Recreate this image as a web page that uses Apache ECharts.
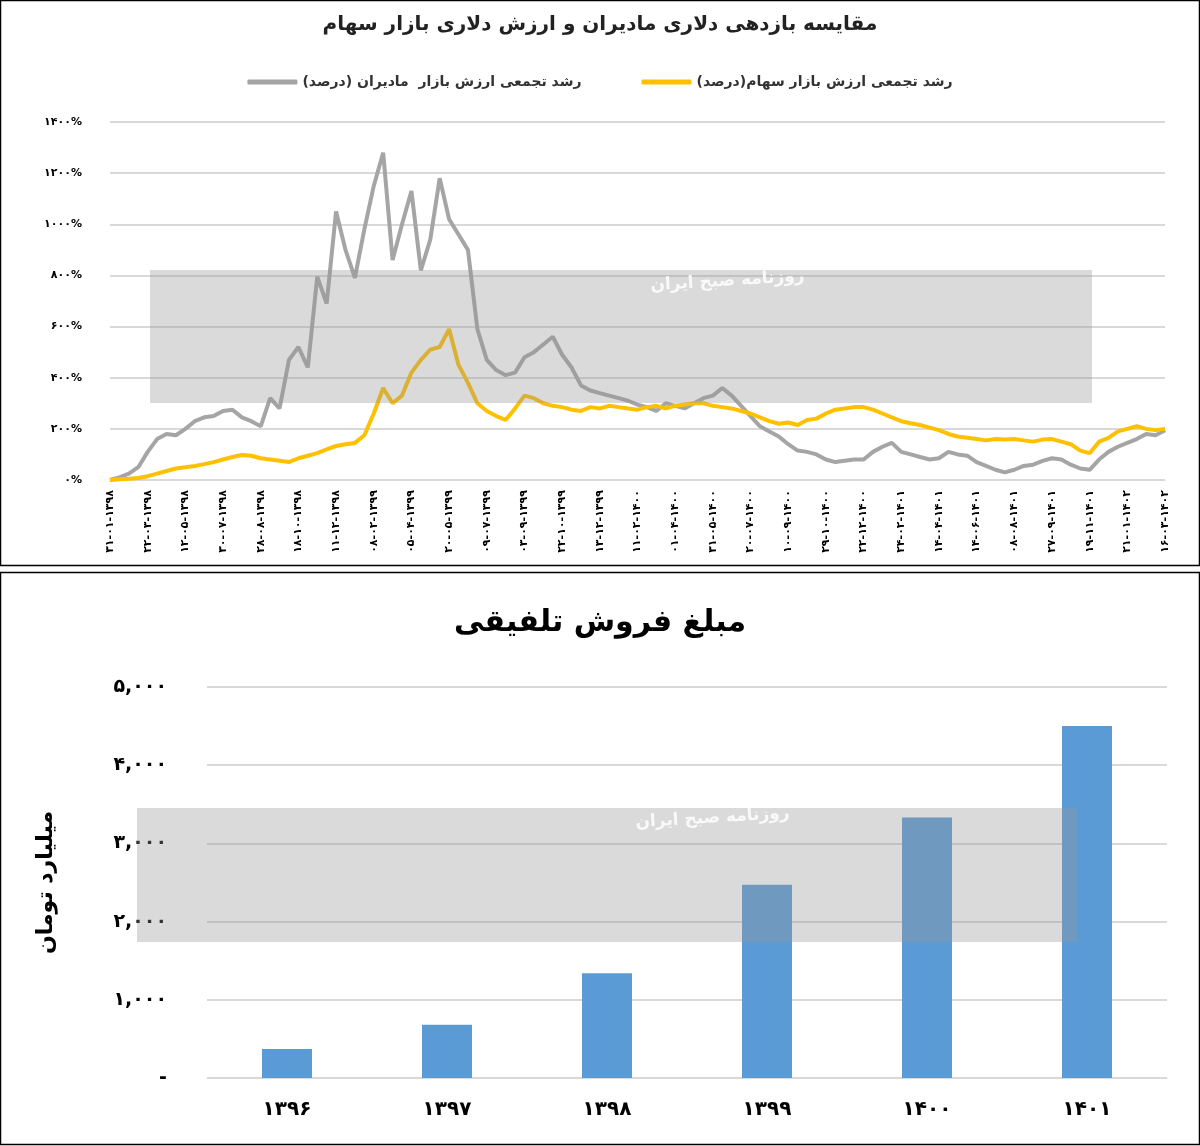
<!DOCTYPE html>
<html><head><meta charset="utf-8">
<script src="https://cdn.jsdelivr.net/npm/echarts@6/dist/echarts.min.js"></script>
<style>html,body{margin:0;padding:0;background:#fff}#c{width:1200px;height:1146px}</style>
</head><body><div id="c"></div>
<script>
// تاریخ‌ها (فقط هر ۴ نقطه برچسب دارد)
var dateLabels = ['۳۱-۰۱-۱۳۹۸','۲۲-۰۳-۱۳۹۸','۱۲-۰۵-۱۳۹۸','۳۰-۰۷-۱۳۹۸','۲۸-۰۸-۱۳۹۸','۱۸-۱۰-۱۳۹۸','۱۱-۱۲-۱۳۹۸',
  '۰۸-۰۲-۱۳۹۹','۰۵-۰۴-۱۳۹۹','۲۰-۰۵-۱۳۹۹','۰۹-۰۷-۱۳۹۹','۰۳-۰۹-۱۳۹۹','۲۲-۱۰-۱۳۹۹','۱۳-۱۲-۱۳۹۹',
  '۱۱-۰۲-۱۴۰۰','۰۱-۰۴-۱۴۰۰','۳۱-۰۵-۱۴۰۰','۲۰-۰۷-۱۴۰۰','۱۰-۰۹-۱۴۰۰','۲۹-۱۰-۱۴۰۰','۲۲-۱۲-۱۴۰۰',
  '۲۴-۰۲-۱۴۰۱','۱۴-۰۴-۱۴۰۱','۱۴-۰۶-۱۴۰۱','۰۸-۰۸-۱۴۰۱','۲۷-۰۹-۱۴۰۱','۱۹-۱۱-۱۴۰۱','۲۱-۰۱-۱۴۰۲','۱۶-۰۳-۱۴۰۲'];

var madiran = [0,10,25,50,110,160,180,175,200,230,245,250,270,275,245,230,210,320,280,470,
  520,440,795,690,1050,900,790,980,1150,1280,860,1000,1130,820,940,1180,1020,960,900,590,
  470,430,410,420,480,500,530,560,490,440,370,350,340,330,320,310,295,285,270,300,
  290,280,300,320,330,360,330,290,250,210,190,170,140,115,110,100,80,70,75,80,
  80,110,130,145,110,100,90,80,85,110,100,95,70,55,40,30,40,55,60,75,
  85,80,60,45,40,80,110,130,145,160,180,175,195];

var bourse = [0,3,5,8,15,25,35,45,50,55,62,70,80,90,98,95,85,80,75,70,
  85,95,105,120,133,140,145,175,260,360,300,330,420,470,510,520,590,450,380,300,
  270,250,235,280,330,320,300,290,285,275,270,285,280,290,285,280,275,285,290,280,
  290,295,300,300,290,285,280,270,260,245,230,220,225,215,235,240,260,275,280,285,
  285,275,260,245,230,222,215,205,195,180,170,165,160,155,160,158,160,155,150,158,
  160,150,140,115,105,150,165,190,200,210,200,195,200];

var years = ['۱۳۹۶','۱۳۹۷','۱۳۹۸','۱۳۹۹','۱۴۰۰','۱۴۰۱'];
var sales = [370,680,1340,2470,3330,4500];

var cats = [];
for (var i = 0; i < madiran.length; i++) cats.push(i % 4 === 0 ? dateLabels[i / 4] : '');

function fa(s) {
  return String(s).replace(/[0-9]/g, function (d) { return '۰۱۲۳۴۵۶۷۸۹'[d]; });
}
var F = 'DejaVu Sans';

var myChart = echarts.init(document.getElementById('c'));
var option = {
  textStyle: { fontFamily: F },
  graphic: [
    { type: 'rect', shape: { x: 0.5, y: 0.5, width: 1199, height: 565 }, style: { fill: 'none', stroke: '#000', lineWidth: 1.5 } },
    { type: 'rect', shape: { x: 0.5, y: 572.5, width: 1199, height: 572 }, style: { fill: 'none', stroke: '#000', lineWidth: 1.5 } },
    { type: 'rect', z: 10, shape: { x: 150, y: 270, width: 942, height: 133 }, style: { fill: 'rgba(150,150,150,0.35)' } },
    { type: 'text', z: 11, left: 650, top: 268, rotation: 0.06, style: { text: 'روزنامه صبح ایران', fill: 'rgba(255,255,255,0.85)', font: 'bold 17px DejaVu Sans' } },
    { type: 'rect', z: 10, shape: { x: 137, y: 808, width: 940, height: 134 }, style: { fill: 'rgba(150,150,150,0.35)' } },
    { type: 'text', z: 11, left: 635, top: 805, rotation: 0.06, style: { text: 'روزنامه صبح ایران', fill: 'rgba(255,255,255,0.85)', font: 'bold 17px DejaVu Sans' } }
  ],
  title: [
    { text: 'مقایسه بازدهی دلاری مادیران و ارزش دلاری بازار سهام', left: 'center', top: 10,
      textStyle: { fontSize: 20, fontWeight: 'bold', color: '#222' } },
    { text: 'مبلغ فروش تلفیقی', left: 'center', top: 603,
      textStyle: { fontSize: 30, fontWeight: 'bold', color: '#000' } }
  ],
  legend: {
    top: 70, left: 'center', itemGap: 60, itemWidth: 50, itemHeight: 5, icon: 'roundRect',
    textStyle: { fontSize: 14, fontWeight: 'bold', color: '#333' },
    data: ['رشد تجمعی ارزش بازار  مادیران (درصد)', 'رشد تجمعی ارزش بازار سهام(درصد)']
  },
  grid: [
    { left: 110, right: 35, top: 122, height: 358 },
    { left: 207, right: 33, top: 687, height: 391 }
  ],
  xAxis: [
    { type: 'category', gridIndex: 0, data: cats, boundaryGap: false,
      axisLine: { lineStyle: { color: '#d9d9d9' } }, axisTick: { show: false },
      axisLabel: { interval: 0, rotate: 90, fontSize: 11, fontWeight: 'bold', color: '#000', margin: 10 } },
    { type: 'category', gridIndex: 1, data: years,
      axisLine: { lineStyle: { color: '#d9d9d9' } }, axisTick: { show: false },
      axisLabel: { fontSize: 20, fontWeight: 'bold', color: '#000', margin: 22 } }
  ],
  yAxis: [
    { type: 'value', gridIndex: 0, min: 0, max: 1400, interval: 200,
      splitLine: { lineStyle: { color: '#d9d9d9', width: 2 } },
      axisLabel: { fontSize: 11, fontWeight: 'bold', color: '#000', margin: 28,
        formatter: function (v) { return fa(v) + '%'; } } },
    { type: 'value', gridIndex: 1, min: 0, max: 5000, interval: 1000,
      name: 'میلیارد تومان', nameLocation: 'middle', nameGap: 150,
      nameTextStyle: { fontSize: 22, fontWeight: 'bold', color: '#000' },
      splitLine: { lineStyle: { color: '#d9d9d9', width: 2 } },
      axisLabel: { fontSize: 19, fontWeight: 'bold', color: '#000', margin: 40,
        formatter: function (v) { return v === 0 ? '-' : fa(v.toLocaleString('en-US')); } } }
  ],
  series: [
    { name: 'رشد تجمعی ارزش بازار  مادیران (درصد)', type: 'line', xAxisIndex: 0, yAxisIndex: 0,
      data: madiran, showSymbol: false, color: '#A5A5A5', lineStyle: { width: 4 } },
    { name: 'رشد تجمعی ارزش بازار سهام(درصد)', type: 'line', xAxisIndex: 0, yAxisIndex: 0,
      data: bourse, showSymbol: false, color: '#FFC000', lineStyle: { width: 4 } },
    { name: 'فروش', type: 'bar', xAxisIndex: 1, yAxisIndex: 1, data: sales,
      barWidth: 50, color: '#5B9BD5' }
  ]
};
myChart.setOption(option);
</script>
</body></html>
